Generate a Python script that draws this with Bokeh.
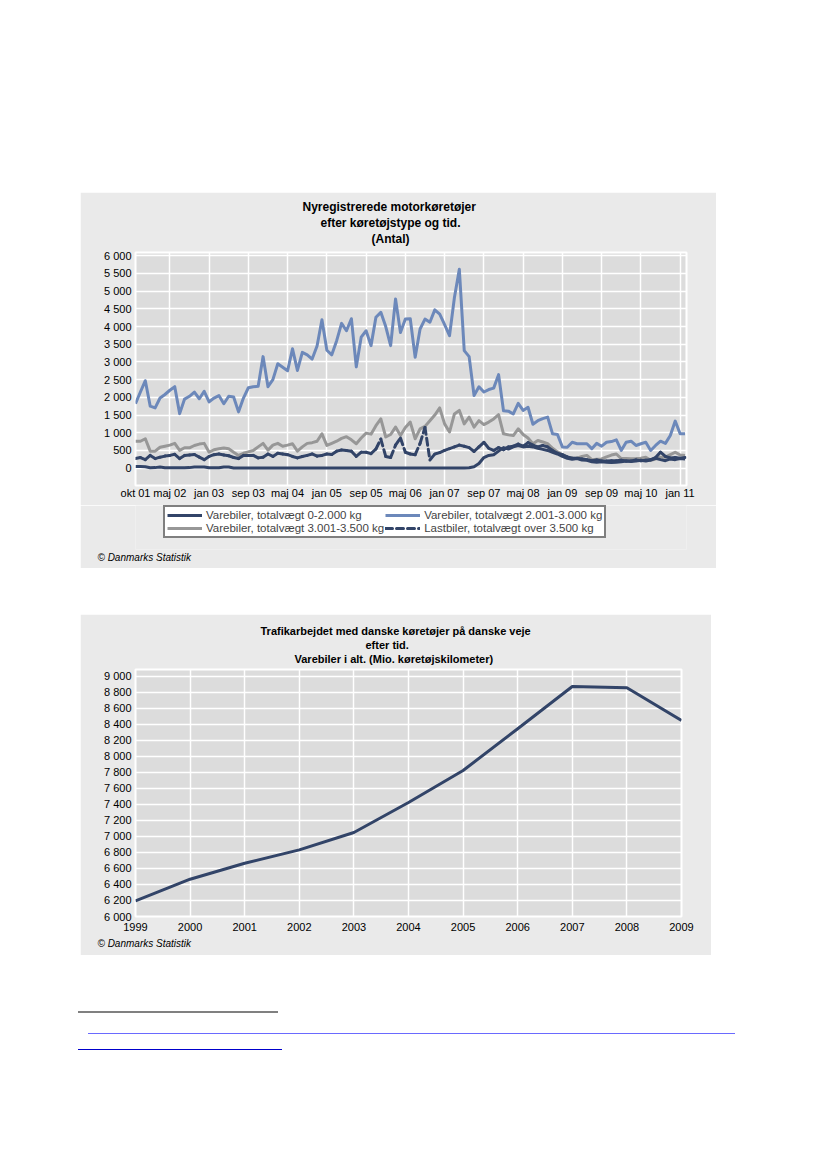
from bokeh.plotting import figure
from bokeh.models import (Range1d, FixedTicker, Title, Legend, LegendItem, Spacer, Div)
from bokeh.layouts import column, row
from bokeh.embed import file_html
from bokeh.resources import INLINE

# ---------------- Chart 1 data ----------------
month_tick_idx = [0, 7, 15, 23, 31, 39, 47, 55, 63, 71, 79, 87, 95, 103, 111]
month_tick_labels = ["okt 01", "maj 02", "jan 03", "sep 03", "maj 04", "jan 05", "sep 05",
                     "maj 06", "jan 07", "sep 07", "maj 08", "jan 09", "sep 09", "maj 10", "jan 11"]

vare_0_2000 = [50, 45, 40, 10, 15, 30, 10, 10, 10, 10, 10, 15, 30, 30, 35, 10, 10, 10, 30, 30, 5,
               5, 5, 5, 5, 5, 5, 5, 5, 5, 5, 5, 5, 5, 5, 5, 5, 5, 5, 5, 5, 5, 5, 5, 5, 5, 5,
               5, 5, 5, 5, 5, 5, 5, 5, 5, 5, 5, 5, 5, 5, 5, 5, 5, 5, 5, 5,
               5, 10, 40, 130, 300, 360, 380, 480, 580, 540, 600, 640, 600, 620, 600, 560, 530, 500,
               450, 400, 330, 280, 250, 270, 230, 220, 180, 170, 180, 170, 160, 170, 180, 200, 190,
               200, 220, 200, 230, 280, 240, 210, 260, 240, 270, 260]

vare_2001_3000 = [1820, 2150, 2470, 1750, 1700, 1980, 2080, 2200, 2300, 1540, 1950, 2030, 2150, 1960,
                  2170, 1870, 1980, 2050, 1820, 2030, 2010, 1590, 1980, 2270, 2300, 2310, 3150, 2300,
                  2500, 2950, 2850, 2750, 3370, 2760, 3270, 3200, 3080, 3450, 4190, 3330, 3200, 3600,
                  4090, 3880, 4220, 2860, 3700, 3880, 3460, 4260, 4400, 4000, 3460, 4780, 3830, 4210,
                  4220, 3130, 3930, 4210, 4120, 4470, 4350, 4050, 3740, 4820, 5620, 3320, 3150, 2050,
                  2300, 2150, 2220, 2260, 2640, 1620, 1610, 1530, 1830, 1630, 1720, 1240, 1340, 1400,
                  1440, 970, 950, 600, 590, 730, 690, 690, 690, 550, 700, 620, 730, 750, 800, 500,
                  730, 760, 640, 690, 730, 500, 640, 760, 700, 920, 1330, 970, 970]

vare_3001_3500 = [760, 760, 830, 480, 480, 590, 620, 650, 700, 500, 575, 575, 640, 680, 700, 450,
                  520, 550, 570, 550, 450, 360, 420, 460, 500, 600, 700, 510, 650, 700, 620, 650,
                  690, 480, 600, 700, 720, 760, 970, 640, 700, 760, 840, 890, 800, 690, 850, 990,
                  960, 1200, 1390, 880, 950, 1160, 920, 1150, 1300, 830, 1110, 1180, 1340, 1500,
                  1700, 1250, 1020, 1530, 1630, 1250, 1440, 1160, 1340, 1230, 1300, 1390, 1510, 970,
                  940, 920, 1110, 950, 850, 690, 780, 740, 690, 560, 460, 380, 310, 290, 280, 330,
                  360, 240, 250, 260, 320, 370, 400, 270, 270, 265, 270, 280, 310, 220, 260, 310,
                  310, 380, 450, 370, 360]

last_over_3500 = [270, 300, 240, 360, 270, 310, 340, 360, 390, 270, 360, 370, 385, 310, 240, 330,
                  380, 400, 370, 350, 300, 270, 360, 360, 360, 290, 310, 400, 330, 420, 400, 380,
                  330, 290, 330, 360, 400, 340, 360, 400, 385, 480, 510, 500, 480, 330, 450, 450,
                  410, 540, 820, 330, 300, 650, 850, 450, 400, 380, 700, 1150, 230, 400, 440, 500,
                  550, 600, 650, 620, 580, 470, 600, 730, 560, 500, 580, 520, 600, 620, 680, 620,
                  720, 650, 600, 640, 600, 500, 420, 380, 320, 280, 280, 260, 240, 210, 230, 200,
                  200, 210, 210, 220, 200, 200, 230, 210, 220, 240, 300, 450, 330, 290, 300, 280, 300]

series_labels = ["Varebiler, totalvægt 0-2.000 kg", "Varebiler, totalvægt 2.001-3.000 kg",
                 "Varebiler, totalvægt 3.001-3.500 kg", "Lastbiler, totalvægt over 3.500 kg"]
title1 = ["Nyregistrerede motorkøretøjer", "efter køretøjstype og tid.", "(Antal)"]

y1_ticks = [0, 500, 1000, 1500, 2000, 2500, 3000, 3500, 4000, 4500, 5000, 5500, 6000]

# ---------------- Chart 2 data ----------------
years = [1999, 2000, 2001, 2002, 2003, 2004, 2005, 2006, 2007, 2008, 2009]
vare_km = [6195, 6466, 6666, 6833, 7050, 7425, 7825, 8346, 8875, 8858, 8450]
y2_ticks = [6000, 6200, 6400, 6600, 6800, 7000, 7200, 7400, 7600, 7800, 8000,
            8200, 8400, 8600, 8800, 9000]
title2 = ["Trafikarbejdet med danske køretøjer på danske veje", "efter tid.",
          "Varebiler i alt. (Mio. køretøjskilometer)"]
source_note = "© Danmarks Statistik"

FONT = "Liberation Sans"
PANEL = "#EAEAEA"
FRAME = "#DCDCDC"
NAVY = "#324468"
LIGHT = "#6C88BA"
GRAY = "#979797"


def fmt(v):
    return f"{v:,}".replace(",", " ")


def style(p, yticks, xticks, xlabels, fs, xstand):
    p.background_fill_color = FRAME
    p.border_fill_color = PANEL
    p.outline_line_color = "white"
    p.outline_line_width = 2
    p.xgrid.grid_line_color = "white"
    p.ygrid.grid_line_color = "white"
    p.xgrid.grid_line_width = 1.5
    p.ygrid.grid_line_width = 1.5
    p.yaxis.ticker = FixedTicker(ticks=yticks)
    p.yaxis.major_label_overrides = {v: fmt(v) for v in yticks}
    p.xaxis.ticker = FixedTicker(ticks=xticks)
    p.xaxis.major_label_overrides = {a: b for a, b in zip(xticks, xlabels)}
    for ax in (p.xaxis, p.yaxis):
        ax.axis_line_color = None
        ax.major_tick_line_color = None
        ax.minor_tick_line_color = None
        ax.major_tick_out = 0
        ax.major_tick_in = 0
        ax.minor_tick_out = 0
        ax.minor_tick_in = 0
        ax.major_label_text_font = FONT
        ax.major_label_text_font_size = fs
        ax.major_label_text_color = "black"
    p.yaxis.major_label_standoff = 4
    p.xaxis.major_label_standoff = xstand


def add_titles(p, lines, offsets, size, gap_size):
    # a blank spacer next to the frame, then the lines from the frame outward
    p.add_layout(Title(text=" ", text_font_size=gap_size, standoff=0), "above")
    for t, off in reversed(list(zip(lines, offsets))):
        p.add_layout(Title(text=t, align="left", offset=off, text_font=FONT,
                           text_font_size=size, text_font_style="bold", standoff=0,
                           text_color="black"), "above")


def source_title(standoff):
    return Title(text=source_note, align="left", offset=-38, text_font=FONT,
                 text_font_size="10px", text_font_style="italic", standoff=standoff,
                 text_color="black")


# ---------------- Chart 1 ----------------
p1 = figure(frame_width=551, frame_height=233, output_backend="svg", toolbar_location=None,
            x_range=Range1d(0, 112.3), y_range=Range1d(-490, 6090), title=None,
            min_border_left=55, min_border_right=30, min_border_top=60, min_border_bottom=20)
style(p1, y1_ticks, month_tick_idx, month_tick_labels, "11px", 1)
add_titles(p1, title1, [167, 185, 236], "12px", "4px")

months = list(range(len(vare_0_2000)))
seg_x = [[months[k], months[k + 1]] for k in range(len(months) - 1)]
seg_y = [[last_over_3500[k], last_over_3500[k + 1]] for k in range(len(months) - 1)]


def draw_series(p):
    r3 = p.line(months, vare_3001_3500, line_color=GRAY, line_width=3, line_join="round")
    r2 = p.line(months, vare_2001_3000, line_color=LIGHT, line_width=3, line_join="round")
    r4 = p.multi_line(seg_x, seg_y, line_color=NAVY, line_width=3, line_dash="7 4",
                      line_cap="round")
    r1 = p.line(months, vare_0_2000, line_color=NAVY, line_width=3, line_join="round")
    return r1, r2, r3, r4


draw_series(p1)

# strip under chart 1 holding the legend and the source note
leg_strip = figure(frame_width=551, frame_height=44, output_backend="svg", toolbar_location=None,
                   x_range=Range1d(200, 300), y_range=Range1d(0, 1), title=None,
                   x_axis_location=None, y_axis_location=None,
                   min_border_left=55, min_border_right=30, min_border_top=0, min_border_bottom=19)
leg_strip.background_fill_color = PANEL
leg_strip.border_fill_color = PANEL
leg_strip.outline_line_color = None
leg_strip.xgrid.visible = False
leg_strip.ygrid.visible = False
s1, s2, s3, s4 = draw_series(leg_strip)   # outside the strip's view; they give the legend swatches
legend = Legend(items=[LegendItem(label=series_labels[0], renderers=[s1]),
                       LegendItem(label=series_labels[2], renderers=[s3]),
                       LegendItem(label=series_labels[1], renderers=[s2]),
                       LegendItem(label=series_labels[3], renderers=[s4])],
                orientation="vertical", ncols=2, location=(28, 11))
legend.label_text_font = FONT
legend.label_text_font_size = "11.5px"
legend.glyph_width = 35
legend.glyph_height = 10
legend.label_height = 10
legend.label_standoff = 4
legend.spacing = 1
legend.padding = 2
legend.margin = 0
legend.border_line_color = "black"
legend.border_line_width = 2
legend.background_fill_color = "white"
legend.background_fill_alpha = 1
leg_strip.add_layout(legend, "center")
leg_strip.add_layout(source_title(0), "below")

# ---------------- Chart 2 ----------------
p2 = figure(frame_width=546, frame_height=247, output_backend="svg", toolbar_location=None,
            x_range=Range1d(1999, 2009), y_range=Range1d(6000, 9087), title=None,
            min_border_left=55, min_border_right=30, min_border_top=55, min_border_bottom=39)
style(p2, y2_ticks, years, [str(y) for y in years], "11px", 6)
add_titles(p2, title2, [125, 230, 159], "11px", "3px")
p2.line(years, vare_km, line_color=NAVY, line_width=3, line_join="round")
p2.add_layout(source_title(4), "below")

notes = Div(width=827, height=60, text=(
    '<div style="position:relative;width:827px;height:60px;">'
    '<div style="position:absolute;left:73px;top:6px;width:200px;height:2px;background:#808080;"></div>'
    '<div style="position:absolute;left:83px;top:28px;width:647px;height:1px;background:#6a6aff;"></div>'
    '<div style="position:absolute;left:73px;top:44px;width:204px;height:1px;background:#0000cc;"></div>'
    '</div>'))

layout = column(Spacer(height=192),
                row(Spacer(width=80), column(p1, leg_strip)),
                Spacer(height=46),
                row(Spacer(width=80), p2),
                Spacer(height=45),
                notes)

open("out.html", "w").write(file_html(layout, INLINE))
